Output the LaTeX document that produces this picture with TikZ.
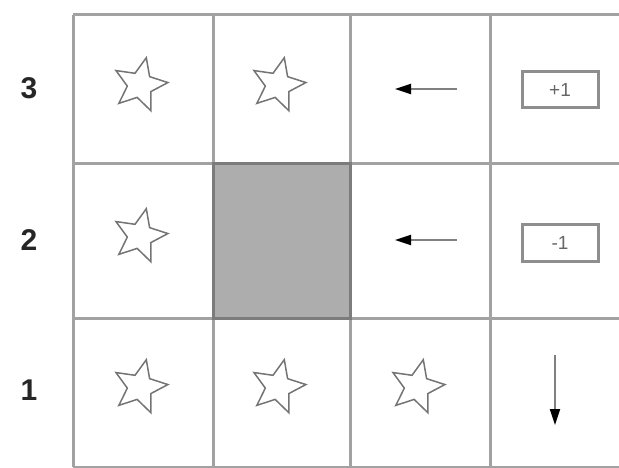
\documentclass[tikz,border=0pt]{standalone}
\usepackage{fontspec}
\setsansfont{Liberation Sans}
\usetikzlibrary{arrows.meta,shapes.geometric}
\definecolor{gridgrey}{HTML}{A2A2A2}
\definecolor{wallgrey}{HTML}{ADADAD}
\definecolor{walledge}{HTML}{7C7C7C}
\definecolor{stargrey}{HTML}{747474}
\definecolor{boxgrey}{HTML}{8E8E8E}

\begin{document}
\begin{tikzpicture}[x=1pt,y=-1pt,
      cellstar/.style={star,star points=5,star point ratio=2.2,draw=stargrey,line width=1.5pt,minimum size=56pt,inner sep=0pt,rotate=-13},
      move/.style={draw=gray,line width=2pt,-{Triangle[length=16pt,width=10pt,color=black]}},
      term/.style={draw=boxgrey,line width=3pt,minimum width=76pt,minimum height=36pt,inner sep=0pt,font=\sffamily\fontsize{19}{19}\selectfont,text=black!60},
      rowlab/.style={font=\sffamily\bfseries\fontsize{30}{30}\selectfont,text=black!85}]
    \useasboundingbox (0,0) rectangle (619,468);
    % cell centres c<col>-<row>
    \foreach \cx [count=\i] in {143,281,420,560} {
      \foreach \cy [count=\j] in {392,241,90} { \coordinate (c\i-\j) at (\cx,\cy); }
    }
    % blocked cell
    \fill[wallgrey] (213,164) rectangle (350,318);
    % grid
    \foreach \gx in {73,213,350,490} { \draw[gridgrey,line width=3pt] (\gx,15) -- (\gx,467); }
    \foreach \gy in {15,164,318,467} { \draw[gridgrey,line width=3pt] (73,\gy) -- (625,\gy); }
    \draw[walledge,line width=3pt] (213,164) rectangle (350,318);
    % row numbers
    \node[rowlab] (r3) at (29,88) {3};
    \node[rowlab] (r2) at (29,240) {2};
    \node[rowlab] (r1) at (29,390) {1};
    % stars
    \foreach \p in {1-3,2-3,1-2,1-1,2-1,3-1} { \node[cellstar] (s\p) at ([shift={(-3,-5)}]c\p) {}; }
    % policy arrows
    \coordinate (a3t) at ([shift={(37,-1)}]c3-3); \coordinate (a3h) at ([shift={(-25,-1)}]c3-3);
    \coordinate (a2t) at ([shift={(37,-1)}]c3-2); \coordinate (a2h) at ([shift={(-25,-1)}]c3-2);
    \coordinate (a1t) at ([shift={(-5,-37)}]c4-1); \coordinate (a1h) at ([shift={(-5,33)}]c4-1);
    \draw[move] (a3t) -- (a3h);
    \draw[move] (a2t) -- (a2h);
    \draw[move] (a1t) -- (a1h);
    % terminal rewards
    \node[term] (t4-3) at (c4-3) {+1};
    \node[term] (t4-2) at ([shift={(0,2)}]c4-2) {-1};
  \end{tikzpicture}
\end{document}
